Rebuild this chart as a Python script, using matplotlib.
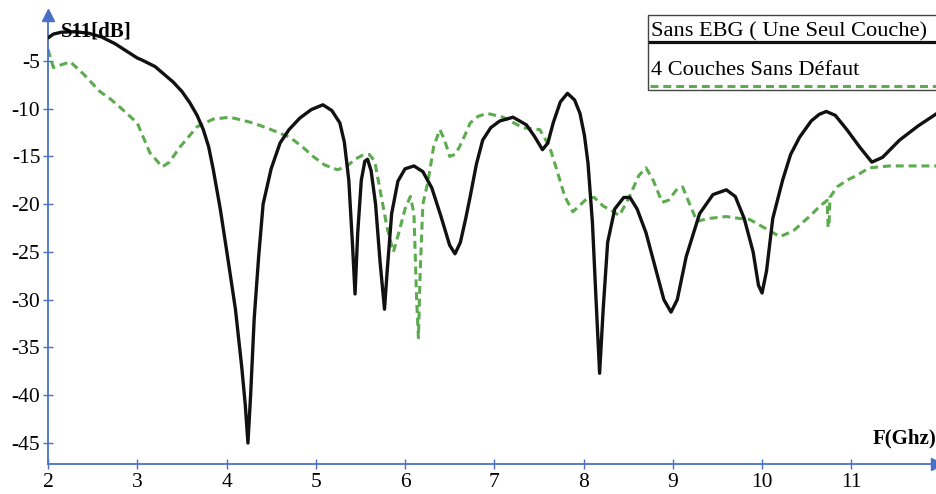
import matplotlib
matplotlib.use("Agg")
import matplotlib.pyplot as plt
from matplotlib.patches import Rectangle

# Frequency (GHz) / S11 (dB) samples, single layer without EBG
f_single = [2.0, 2.06, 2.15, 2.3, 2.45, 2.6, 2.75, 2.9, 3.0, 3.05, 3.2, 3.4, 3.5, 3.59,
            3.67, 3.74, 3.8, 3.85, 3.93, 4.02, 4.1, 4.17, 4.21, 4.24, 4.27, 4.31, 4.36,
            4.41, 4.5, 4.6, 4.7, 4.82, 4.95, 5.08, 5.18, 5.27, 5.32, 5.37, 5.41, 5.44,
            5.47, 5.51, 5.55, 5.58, 5.62, 5.67, 5.72, 5.77, 5.8, 5.85, 5.92, 6.0, 6.1,
            6.2, 6.3, 6.4, 6.5, 6.56, 6.62, 6.68, 6.73, 6.8, 6.87, 6.96, 7.06, 7.21,
            7.36, 7.45, 7.54, 7.6, 7.66, 7.74, 7.82, 7.9, 7.96, 8.01, 8.05, 8.1, 8.14,
            8.18, 8.22, 8.27, 8.35, 8.45, 8.52, 8.6, 8.7, 8.8, 8.9, 8.98, 9.05, 9.15,
            9.3, 9.45, 9.6, 9.7, 9.8, 9.9, 9.96, 10.0, 10.05, 10.12, 10.23, 10.32,
            10.42, 10.55, 10.64, 10.72, 10.82, 10.95, 11.1, 11.23, 11.35, 11.54, 11.75,
            11.96]
s11_single = [-2.6, -2.2, -2.0, -1.95, -2.1, -2.5, -3.2, -4.1, -4.7, -4.9, -5.6, -7.2,
              -8.2, -9.4, -10.7, -12.2, -14.0, -16.3, -20.5, -26.0, -31.0, -37.0,
              -41.0, -45.0, -40.0, -32.0, -25.5, -20.0, -16.3, -13.6, -12.2, -11.0,
              -10.1, -9.6, -10.2, -11.5, -13.5, -17.5, -24.0, -29.4, -23.0, -17.5,
              -15.5, -15.3, -16.5, -20.0, -26.0, -31.0, -27.0, -21.0, -17.6, -16.3,
              -16.0, -16.6, -18.3, -21.2, -24.3, -25.2, -24.0, -21.5, -19.2, -15.8,
              -13.3, -12.0, -11.3, -10.9, -11.7, -12.9, -14.3, -13.6, -11.5, -9.3,
              -8.4, -9.1, -10.5, -12.8, -15.7, -22.0, -30.0, -37.7, -31.0, -24.0,
              -20.5, -19.3, -19.3, -20.5, -23.0, -26.5, -30.0, -31.3, -30.0, -25.5,
              -21.0, -19.0, -18.5, -19.2, -21.5, -25.0, -28.5, -29.3, -27.0, -21.5,
              -17.5, -14.8, -13.0, -11.3, -10.6, -10.3, -10.7, -12.2, -14.1, -15.6,
              -15.1, -13.3, -11.8, -10.5]

# Four-layer structure without defect
f_four = [2.0, 2.06, 2.12, 2.25, 2.4, 2.58, 2.7, 2.8, 3.0, 3.14, 3.28, 3.36, 3.48, 3.67,
          3.85, 4.04, 4.3, 4.5, 4.71, 4.85, 4.97, 5.1, 5.24, 5.34, 5.44, 5.52, 5.6,
          5.66, 5.72, 5.8, 5.87, 5.93, 6.0, 6.06, 6.1, 6.13, 6.15, 6.17, 6.2, 6.26,
          6.32, 6.39, 6.44, 6.5, 6.56, 6.61, 6.67, 6.73, 6.82, 6.92, 7.1, 7.32, 7.51,
          7.62, 7.7, 7.79, 7.88, 7.95, 8.05, 8.12, 8.22, 8.32, 8.4, 8.5, 8.62, 8.7,
          8.78, 8.88, 8.95, 9.05, 9.11, 9.18, 9.27, 9.4, 9.6, 9.75, 9.86, 10.05, 10.2,
          10.35, 10.53, 10.65, 10.73, 10.74, 10.75, 10.76, 10.84, 10.95, 11.06, 11.2,
          11.43, 11.96]
s11_four = [-3.8, -5.7, -5.5, -5.1, -6.4, -8.2, -9.0, -9.8, -11.5, -14.6, -16.1, -15.6,
            -14.0, -11.9, -11.1, -10.9, -11.5, -12.2, -13.0, -14.0, -15.0, -15.9,
            -16.4, -16.1, -15.3, -14.9, -14.8, -15.5, -18.5, -22.5, -25.0, -23.0,
            -20.5, -19.2, -21.0, -30.0, -34.0, -27.0, -20.0, -17.5, -14.0, -12.2,
            -13.2, -15.0, -14.8, -14.0, -12.8, -11.5, -10.8, -10.5, -10.9, -12.0,
            -12.2, -14.0, -16.4, -19.2, -20.8, -20.2, -19.3, -19.3, -20.2, -20.7,
            -21.2, -19.5, -17.0, -16.2, -17.5, -19.8, -19.6, -18.4, -18.2, -19.8,
            -21.8, -21.5, -21.3, -21.5, -21.6, -22.6, -23.4, -22.8, -21.3, -20.2,
            -19.6, -22.4, -22.4, -19.3, -18.2, -17.5, -17.0, -16.2, -16.0, -16.0]

x_ticks = [2, 3, 4, 5, 6, 7, 8, 9, 10, 11]
y_ticks = [-5, -10, -15, -20, -25, -30, -35, -40, -45]
legend_labels = ["Sans EBG ( Une Seul Couche)", "4 Couches Sans Défaut"]

AXIS_BLUE = "#4a70c8"
GREEN = "#5dab4f"
SERIF = ["Liberation Serif", "DejaVu Serif"]

plt.rcParams["font.family"] = SERIF

fig = plt.figure(figsize=(9.37, 4.94), dpi=100)
ax = fig.add_axes([48 / 937, 30 / 494, 889 / 937, 449 / 494])

ax.plot(f_single, s11_single, color="#111111", lw=2.4, solid_joinstyle="round",
        solid_capstyle="round", zorder=3)
ax.plot(f_four, s11_four, color=GREEN, lw=2.2, dashes=(2.6, 1.6), zorder=2)

ax.set_xlim(2, 11.96)
ax.set_ylim(-47.2, -0.2)
ax.set_xticks(x_ticks)
ax.set_yticks(y_ticks)
ax.set_xticklabels([str(v) for v in x_ticks])
ax.set_yticklabels([str(v) for v in y_ticks])

for side in ("top", "right"):
    ax.spines[side].set_visible(False)
for side in ("left", "bottom"):
    ax.spines[side].set_color(AXIS_BLUE)
    ax.spines[side].set_linewidth(1.3)

ax.tick_params(axis="both", direction="inout", length=7, width=1, color=AXIS_BLUE,
               labelcolor="black", labelsize=15.5)
ax.tick_params(axis="x", pad=3)
ax.tick_params(axis="y", pad=2)

# arrow heads at the ends of both axes
ax.plot([0], [1.0], marker="^", markersize=8, color=AXIS_BLUE, transform=ax.transAxes,
        clip_on=False, zorder=5)
ax.plot([1.0], [0], marker=">", markersize=8, color=AXIS_BLUE, transform=ax.transAxes,
        clip_on=False, zorder=5)

ax.text(0.015, 0.985, "S11[dB]", transform=ax.transAxes, fontsize=15,
        fontweight="bold", ha="left", va="top")
ax.text(0.999, 0.035, "F(Ghz)", transform=ax.transAxes, fontsize=15,
        fontweight="bold", ha="right", va="bottom")

# legend box
ax.add_patch(Rectangle((0.675, 0.833), 0.34, 0.167, transform=ax.transAxes,
                       facecolor="white", edgecolor="#444444", lw=1.0,
                       clip_on=False, zorder=6))
ax.text(0.678, 0.952, legend_labels[0], transform=ax.transAxes, fontsize=16.1,
        ha="left", va="baseline", zorder=7)
ax.plot([0.677, 1.0], [0.940, 0.940], color="#111111", lw=2.3, transform=ax.transAxes,
        clip_on=False, zorder=7)
ax.text(0.678, 0.866, legend_labels[1], transform=ax.transAxes, fontsize=16.1,
        ha="left", va="baseline", zorder=7)
ax.plot([0.677, 1.0], [0.842, 0.842], color=GREEN, lw=2.2, dashes=(2.6, 1.6),
        transform=ax.transAxes, clip_on=False, zorder=7)

fig.savefig("out.png", dpi=100)
